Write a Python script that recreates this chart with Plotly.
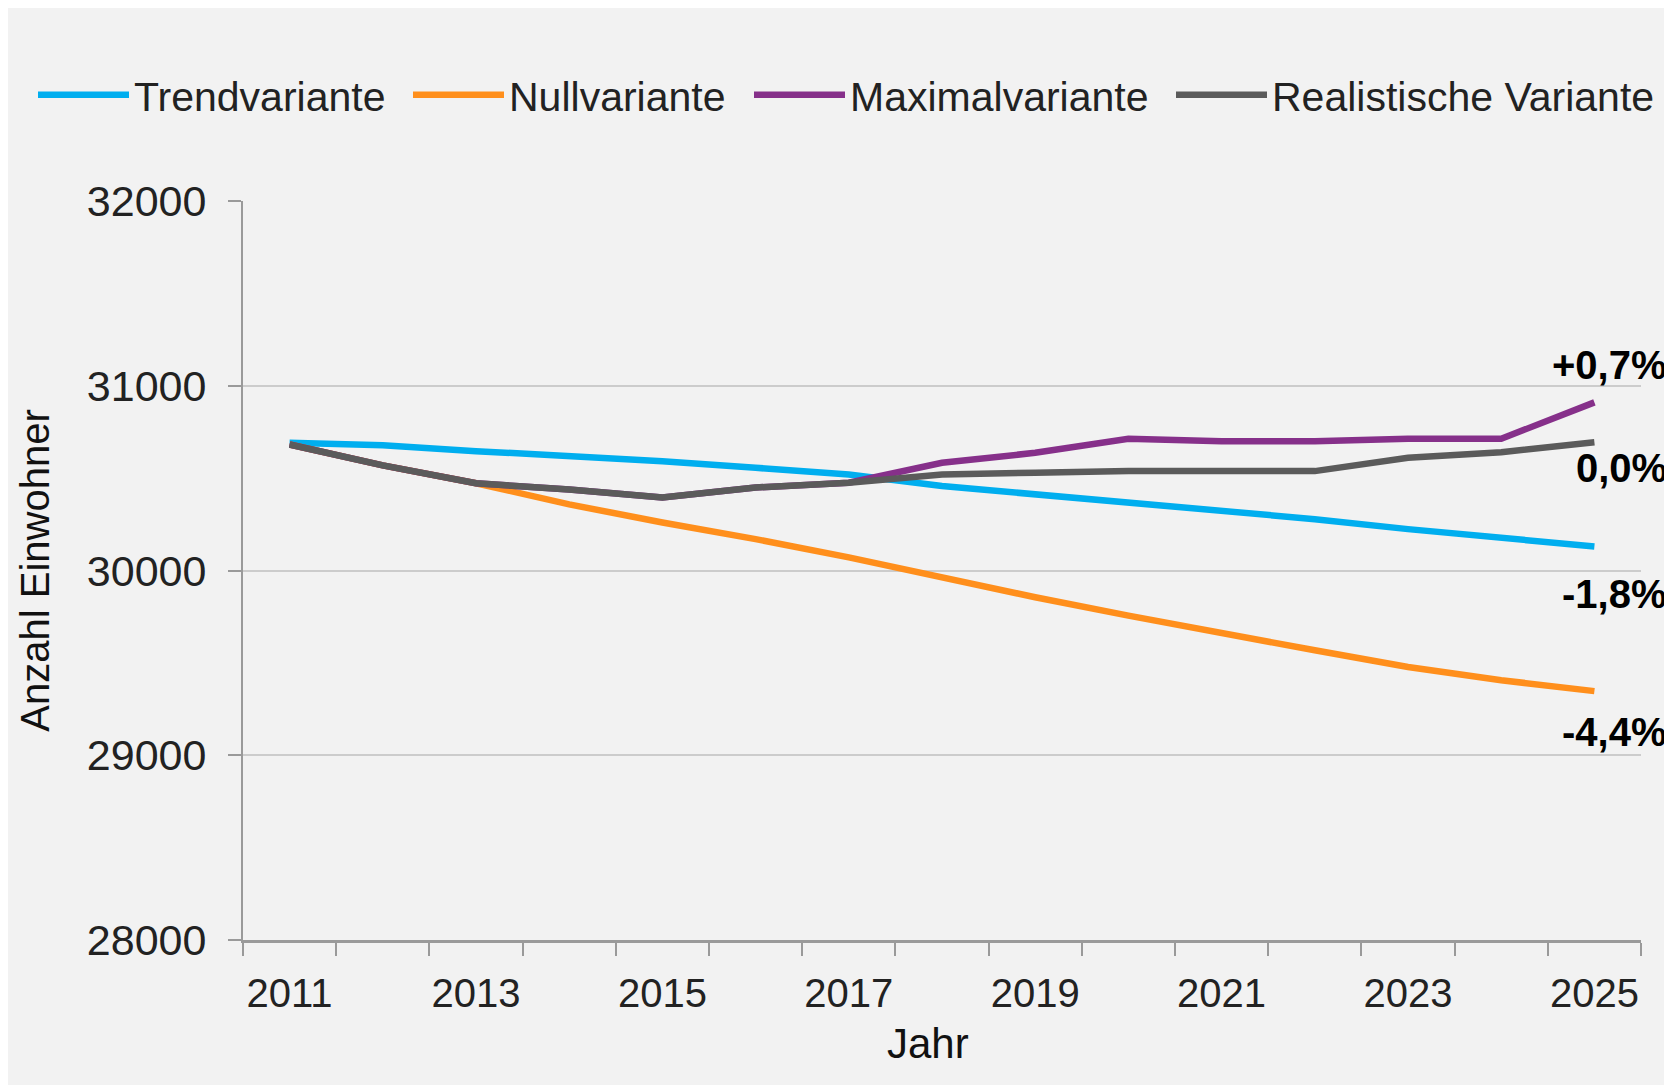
import plotly.graph_objects as go

years = list(range(2011, 2026))
trend = [30691, 30678, 30646, 30623, 30592, 30556, 30520, 30457, 30412, 30364, 30322, 30278, 30224, 30179, 30130]
null = [30682, 30569, 30472, 30358, 30260, 30170, 30071, 29963, 29855, 29756, 29658, 29568, 29478, 29406, 29347]
maximal = [30682, 30569, 30472, 30439, 30395, 30449, 30475, 30583, 30637, 30713, 30700, 30700, 30713, 30713, 30910]
realistic = [30682, 30569, 30472, 30439, 30395, 30449, 30475, 30520, 30529, 30538, 30538, 30538, 30610, 30640, 30694]
names = ["Trendvariante", "Nullvariante", "Maximalvariante", "Realistische Variante"]
end_labels = ["-1,8%", "-4,4%", "+0,7%", "0,0%"]
colors = ["#00AEEF", "#FF8F1C", "#86308A", "#5B5B5B"]
tick_years = years[::2]

series = [trend, null, maximal, realistic]
label_shift = [-48, -41, 37, -26]
legend_x_px = [25, 400, 741, 1163]

FONT = "Liberation Sans, Arial, sans-serif"
W, H = 1664, 1077

fig = go.Figure()
legend_ids = ["legend", "legend2", "legend3", "legend4"]
for s, n, c, lid in zip(series, names, colors, legend_ids):
    fig.add_trace(go.Scatter(x=years, y=s, name=n, mode="lines", legend=lid,
                             line=dict(color=c, width=6.5)))

for s, lab, sh in zip(series, end_labels, label_shift):
    fig.add_annotation(x=1, xref="paper", y=s[-1], yref="y", text=lab,
                       showarrow=False, xanchor="right", yanchor="middle",
                       xshift=28, yshift=sh,
                       font=dict(family=FONT, size=40, color="#000000", weight="bold"))

# x-axis title (slightly left of centre, as in the original)
fig.add_annotation(x=0.49, xref="paper", y=0, yref="paper", text="Jahr",
                   showarrow=False, xanchor="center", yanchor="middle", yshift=-103,
                   font=dict(family=FONT, size=42, color="#111111"))

boundaries = [y - 0.5 for y in years] + [years[-1] + 0.5]

legend_common = dict(orientation="h", xref="container", yref="container",
                     y=1 - 87 / H, xanchor="left", yanchor="middle",
                     itemwidth=91, font=dict(family=FONT, size=41, color="#222222"),
                     bgcolor="rgba(0,0,0,0)")
legends = {}
for lid, lx in zip(legend_ids, legend_x_px):
    legends[lid] = dict(legend_common, x=lx / W)

fig.update_layout(
    width=W, height=H,
    paper_bgcolor="#F2F2F2", plot_bgcolor="#F2F2F2",
    margin=dict(l=235, r=31, t=193, b=145, autoexpand=False),
    font=dict(family=FONT, size=40, color="#222222"),
    showlegend=True,
    **legends,
)
fig.update_xaxes(range=[2010.5, 2025.5], tickvals=tick_years, ticks="",
                 showgrid=False, zeroline=False, automargin=False,
                 showline=True, linecolor="#9A9A9A", linewidth=3,
                 ticklabelstandoff=16, tickfont=dict(size=40, color="#222222"),
                 minor=dict(tickvals=boundaries, ticks="outside", ticklen=13,
                            tickcolor="#9A9A9A", tickwidth=2, showgrid=False))
fig.update_yaxes(range=[28000, 32000], dtick=1000, tickformat="d", ticks="outside", ticklen=13,
                 tickcolor="#9A9A9A", tickwidth=2, automargin=False,
                 showgrid=True, gridcolor="#CCCCCC", gridwidth=2, zeroline=False,
                 showline=True, linecolor="#9A9A9A", linewidth=2,
                 ticklabelstandoff=13, tickfont=dict(size=43, color="#222222"),
                 title=dict(text="Anzahl Einwohner", font=dict(size=40, color="#111111"), standoff=25))

fig.write_html("out.html")
